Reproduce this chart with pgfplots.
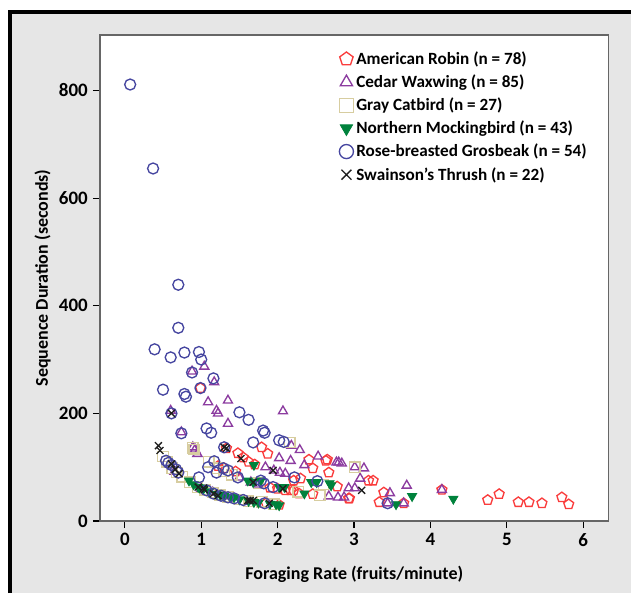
\documentclass[border=0pt]{standalone}
\usepackage{fontspec}
\setmainfont{Carlito}
\usepackage{pgfplots}
\pgfplotsset{compat=1.18}

\definecolor{bggrey}{RGB}{230,230,230}
\definecolor{robin}{RGB}{250,60,60}
\definecolor{waxwing}{RGB}{140,60,160}
\definecolor{catbird}{RGB}{215,205,160}
\definecolor{mocking}{RGB}{0,130,60}
\definecolor{grosbeak}{RGB}{70,70,160}
\definecolor{thrush}{RGB}{30,30,30}

\begin{document}
\begin{tikzpicture}
% 1 px of the reference = 0.025 cm
\fill[white] (-2.5,-1.8) rectangle (13.275,13.025);
\fill[bggrey] (-2.25,-1.8) rectangle (13.275,12.725);
\draw[black,line width=2.2pt] (-2.25,-1.8) -- (-2.25,12.725) -- (13.275,12.725);
\begin{axis}[
  at={(0,0)}, anchor=south west,
  scale only axis, width=12.71cm, height=12.15cm,
  xmin=-0.325, xmax=6.33, ymin=0, ymax=903,
  xtick={0,...,6}, ytick={0,200,400,600,800},
  tick pos=left, tick align=outside, major tick length=0.18cm,
  tick style={black, line width=0.8pt},
  axis line style={draw=black!60, line width=1pt},
  axis background/.style={fill=white},
  /pgf/number format/assume math mode=true,
  ticklabel style={font=\bfseries\fontsize{13.5}{15}\selectfont},
  every axis x label/.style={at={(axis description cs:0.5,0)}, anchor=center, yshift=-1.33cm},
  every axis y label/.style={at={(axis description cs:-0.113,0.5)}, anchor=center, rotate=90},
  label style={font=\bfseries\fontsize{12.8}{14}\selectfont},
  xlabel={Foraging Rate (fruits/minute)},
  ylabel={Sequence Duration (seconds)},
  legend image code/.code={\draw[#1,mark size=5pt] plot coordinates {(0.2cm,0cm)};},
  legend style={at={(axis description cs:0.462,0.978)}, anchor=north west,
    draw=none, fill=none, font=\bfseries\fontsize{12.2}{13}\selectfont,
    row sep=1.9pt, cells={anchor=west}},
]
% American Robin
\addplot[only marks, mark=pentagon, mark size=3.7pt, draw=robin, line width=0.95pt] coordinates {
(0.99,247)(1.33,135)(1.48,126)(1.55,118)(1.79,137)(1.87,125)
(1.22,102)(1.30,98)(1.45,92)(2.41,114)(2.63,112)(2.65,114)(2.46,98)(2.67,90)
(3.19,75)(3.25,75)(2.30,79)(2.78,64)(2.21,57)(2.28,51)(2.46,50)(2.93,42)(2.94,42)
(2.17,57)(2.21,75)(1.90,62)(2.00,60)(2.10,57)(3.39,53)(3.33,35)(3.65,33)(4.15,58)
(4.75,39)(4.90,50)(5.15,35)(5.29,35)(5.46,33)(5.72,44)(5.81,31)
(2.02,30)(1.85,33)(1.62,110)(1.70,105)};
% Cedar Waxwing
\addplot[only marks, mark=triangle, mark size=3.7pt, draw=waxwing, line width=0.95pt] coordinates {
(0.88,278)(1.04,287)(1.17,258)(1.09,221)(1.35,224)(1.20,205)(1.22,200)(1.35,181)(2.07,204)
(0.60,205)(0.74,165)(0.89,137)(0.92,133)(0.95,125)
(2.18,140)(2.29,132)(2.53,120)(2.77,109)(2.80,109)(2.84,107)(3.01,100)(3.13,98)
(2.02,117)(2.17,112)(2.35,104)(1.84,100)(1.95,94)(2.03,90)(2.10,88)
(1.50,81)(3.08,79)(2.93,61)(3.01,61)(2.67,46)(2.79,44)(2.87,44)
(3.47,52)(3.44,33)(3.65,33)(3.69,66)(4.15,58)
(1.00,60)(1.30,46)(1.15,53)(0.65,92)(1.65,72)(1.75,68)};
% Gray Catbird
\addplot[only marks, mark=square, mark size=3.7pt, draw=catbird, line width=0.95pt] coordinates {
(0.89,136)(0.91,133)(2.16,146)(3.01,100)(2.55,48)
(0.50,120)(0.55,110)(0.62,98)(0.68,90)(0.75,82)(0.85,72)(0.95,63)(1.05,58)(1.15,53)
(1.25,48)(1.35,45)(1.50,40)(1.22,98)(1.40,86)(1.75,70)(2.27,54)
(1.62,37)(1.95,31)(1.10,110)(2.60,68)(1.80,36)(1.30,92)};
% Northern Mockingbird
\addplot[only marks, mark=triangle*, mark size=3.7pt, mark options={rotate=180},
  draw=mocking, fill=mocking, line width=0.6pt] coordinates {
(0.84,75)(0.90,68)(0.96,63)(1.03,60)(1.10,55)(1.20,50)(1.30,46)(1.43,44)(1.50,40)
(1.62,37)(1.69,35)(1.75,34)(1.90,32)(1.98,31)(2.02,29)(1.25,48)(1.38,44)(0.98,62)
(1.69,104)(1.61,75)(1.68,72)(1.78,75)(2.02,63)(2.09,63)(2.35,51)(2.44,72)(2.51,72)
(2.68,70)(2.70,66)(3.55,31)(3.76,46)(4.30,41)};
% Rose-breasted Grosbeak
\addplot[only marks, mark=o, mark size=3.9pt, draw=grosbeak, line width=0.95pt] coordinates {
(0.07,811)(0.37,655)(0.70,439)(0.70,359)(0.39,319)(0.60,304)(0.78,313)(0.97,314)(1.00,300)
(1.16,265)(0.88,276)(0.99,247)(0.50,244)(0.78,236)(0.80,231)(0.61,200)(1.50,202)(1.62,188)
(1.07,172)(1.13,164)(1.81,168)(1.83,164)(2.02,150)(2.08,147)(1.68,146)(0.74,163)(1.30,137)
(0.54,112)(0.57,108)(0.61,104)(0.67,96)(0.70,90)(1.17,111)(1.29,98)(1.35,94)(1.48,81)
(1.07,57)(1.16,51)(1.26,47)(1.35,44)(1.43,42)(1.55,39)(1.83,33)
(1.78,75)(1.82,70)(1.94,63)(2.22,81)(2.52,74)(3.44,33)(0.97,81)(1.09,100)(1.20,90)};
% Swainson's Thrush
\addplot[only marks, mark=x, mark size=3.5pt, draw=thrush, line width=0.95pt] coordinates {
(0.44,140)(0.46,131)(0.61,200)(0.61,106)(0.66,96)(0.71,88)(0.96,63)(1.03,61)(1.16,51)
(1.22,47)(1.61,38)(1.64,38)(1.68,38)(1.89,33)(1.30,137)(1.33,135)(1.52,116)(1.94,94)
(1.68,72)(2.07,60)(3.10,57)(1.04,58)};
\legend{American Robin (n = 78),Cedar Waxwing (n = 85),Gray Catbird (n = 27),
  Northern Mockingbird (n = 43),Rose-breasted Grosbeak (n = 54),Swainson's Thrush (n = 22)}
\end{axis}
\pgfresetboundingbox
\useasboundingbox (-2.5,-1.8) rectangle (13.275,13.025);
\end{tikzpicture}
\end{document}
